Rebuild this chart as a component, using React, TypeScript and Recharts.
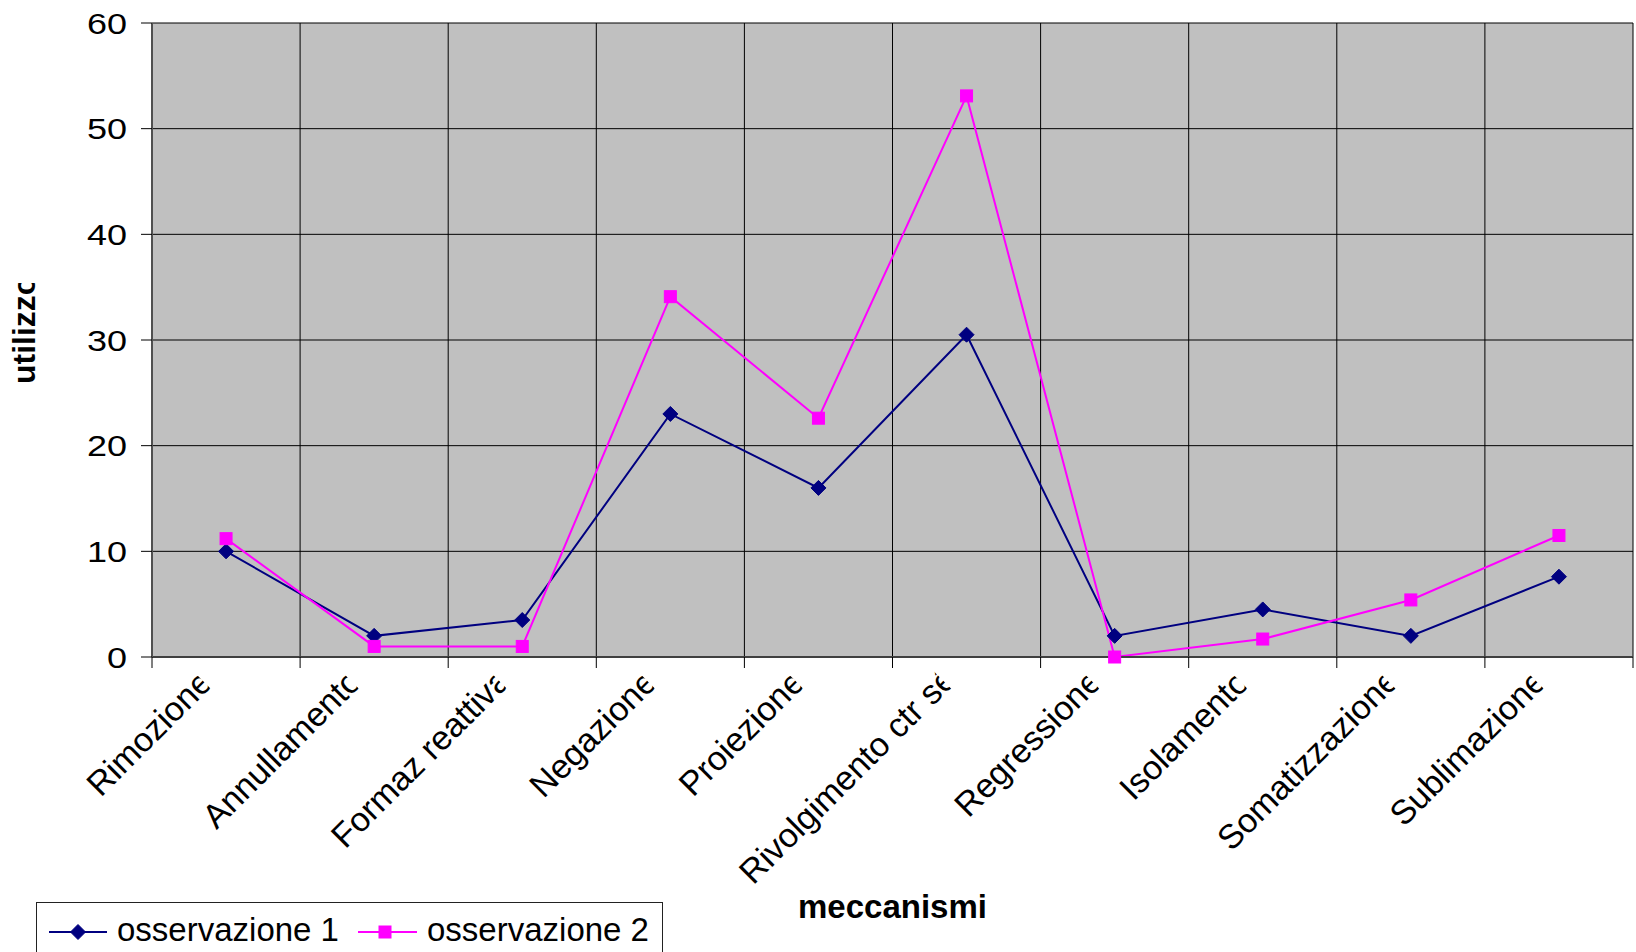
import React from "react";
import {
  ComposedChart,
  Line,
  XAxis,
  YAxis,
  CartesianGrid,
  Legend,
} from "recharts";

const categories = [
  "Rimozione",
  "Annullamento",
  "Formaz reattiva",
  "Negazione",
  "Proiezione",
  "Rivolgimento ctr sé",
  "Regressione",
  "Isolamento",
  "Somatizzazione",
  "Sublimazione",
];
const osservazione1 = [10, 2, 3.5, 23, 16, 30.5, 2, 4.5, 2, 7.6];
const osservazione2 = [11.2, 1, 1, 34.1, 22.6, 53.1, 0, 1.7, 5.4, 11.5];
const yTicks = [0, 10, 20, 30, 40, 50, 60];

const FONT = "'Liberation Sans', Arial, sans-serif";
const NAVY = "#000080";
const MAGENTA = "#FF00FF";

const data = categories.map((name, i) => ({
  name,
  o1: osservazione1[i],
  o2: osservazione2[i],
}));

let ctx: CanvasRenderingContext2D | null = null;
function textWidth(s: string, font: string) {
  if (!ctx) ctx = document.createElement("canvas").getContext("2d");
  if (!ctx) return s.length * 17;
  ctx.font = font;
  return ctx.measureText(s).width;
}

// vertical grid sits between categories, like excel does
function boundaryLines({ offset }: any) {
  const n = categories.length;
  const step = offset.width / n;
  return Array.from({ length: n + 1 }, (_, i) => offset.left + i * step);
}

// excel squeezed the labels: the end of each one is cut at the tick anchor
function XTick(props: any) {
  const { x, y, payload, index, width, visibleTicksCount } = props;
  const label = String(payload.value);
  const band = width / (visibleTicksCount || categories.length);
  const w = textWidth(label, `34px 'Liberation Sans'`);
  const start = -w / 1.035;
  const id = `xclip-${index}`;
  const last = index === (visibleTicksCount || categories.length) - 1;
  return (
    <g>
      <line x1={x - band / 2} x2={x - band / 2} y1={y} y2={y + 11} stroke="#000" />
      {last && (
        <line x1={x + band / 2} x2={x + band / 2} y1={y} y2={y + 11} stroke="#000" />
      )}
      <g transform={`translate(${x - 33},${y + 14}) rotate(-45)`}>
        <defs>
          <clipPath id={id}>
            <rect x={-700} y={-80} width={700} height={200} />
          </clipPath>
        </defs>
        <text
          x={start}
          y={0}
          dy="0.72em"
          textAnchor="start"
          fontSize={34}
          fontFamily={FONT}
          fill="#000"
          clipPath={`url(#${id})`}
        >
          {label}
        </text>
      </g>
    </g>
  );
}

function YTick(props: any) {
  const { x, y, payload } = props;
  return (
    <text
      transform={`translate(${x},${y}) scale(1.2,1)`}
      dy="0.36em"
      textAnchor="end"
      fontSize={30}
      fontFamily={FONT}
      fill="#000"
    >
      {payload.value}
    </text>
  );
}

function YTitle(props: any) {
  const { viewBox } = props;
  const cy = viewBox.y + viewBox.height / 2;
  const x = viewBox.x + 35;
  const y = cy + 44;
  return (
    <g>
      <defs>
        <clipPath id="ytitle-clip">
          <rect x={0} y={cy - 57} width={80} height={400} />
        </clipPath>
      </defs>
      <g clipPath="url(#ytitle-clip)">
        <text
          transform={`translate(${x},${y}) rotate(-90)`}
          textAnchor="start"
          fontSize={32}
          fontWeight="bold"
          fontFamily={FONT}
          fill="#000"
        >
          utilizzo
        </text>
      </g>
    </g>
  );
}

function XTitle(props: any) {
  const { viewBox } = props;
  return (
    <text
      x={viewBox.x + viewBox.width / 2}
      y={viewBox.y + 261}
      textAnchor="middle"
      fontSize={33}
      fontWeight="bold"
      fontFamily={FONT}
      fill="#000"
    >
      meccanismi
    </text>
  );
}

function Diamond(props: any) {
  const { cx, cy } = props;
  if (cx == null || cy == null) return null;
  const r = 7.5;
  return (
    <path
      d={`M${cx},${cy - r} L${cx + r},${cy} L${cx},${cy + r} L${cx - r},${cy} Z`}
      fill={NAVY}
      stroke={NAVY}
    />
  );
}

function Square(props: any) {
  const { cx, cy } = props;
  if (cx == null || cy == null) return null;
  return (
    <rect x={cx - 6} y={cy - 6} width={12} height={12} fill={MAGENTA} stroke={MAGENTA} />
  );
}

function LegendBox() {
  return (
    <div
      style={{
        width: 627,
        height: 70,
        boxSizing: "border-box",
        border: "1px solid #222",
        background: "#fff",
      }}
    >
      <svg width={625} height={68} style={{ display: "block" }}>
        <line x1={12} x2={70} y1={29} y2={29} stroke={NAVY} strokeWidth={2} />
        <Diamond cx={41} cy={29} />
        <text x={80} y={38} fontSize={33} fontFamily={FONT} fill="#000">
          osservazione 1
        </text>
        <line x1={321} x2={380} y1={29} y2={29} stroke={MAGENTA} strokeWidth={2} />
        <Square cx={348} cy={29} />
        <text x={390} y={38} fontSize={33} fontFamily={FONT} fill="#000">
          osservazione 2
        </text>
      </svg>
    </div>
  );
}

export default function App() {
  return (
    <div
      style={{
        position: "absolute",
        left: 0,
        top: 0,
        width: 1636,
        height: 952,
        overflow: "hidden",
        background: "#fff",
      }}
    >
      <ComposedChart
        width={1636}
        height={952}
        data={data}
        margin={{ top: 23, right: 3, bottom: 0, left: 0 }}
      >
        <CartesianGrid
          stroke="#000"
          strokeWidth={1}
          fill="#C0C0C0"
          fillOpacity={1}
          verticalCoordinatesGenerator={boundaryLines}
        />
        <XAxis
          dataKey="name"
          scale="band"
          interval={0}
          axisLine={{ stroke: "#404040", strokeWidth: 2 }}
          tickLine={false}
          tickSize={0}
          tickMargin={0}
          height={295}
          tick={<XTick />}
          label={<XTitle />}
        />
        <YAxis
          domain={[0, 60]}
          ticks={yTicks}
          width={152}
          tickSize={11}
          tickMargin={14}
          tick={<YTick />}
          tickLine={{ stroke: "#000" }}
          axisLine={{ stroke: "#505050", strokeWidth: 2 }}
          label={<YTitle />}
        />
        <Line
          dataKey="o1"
          name="osservazione 1"
          stroke={NAVY}
          strokeWidth={2}
          dot={<Diamond />}
          activeDot={false}
          isAnimationActive={false}
        />
        <Line
          dataKey="o2"
          name="osservazione 2"
          stroke={MAGENTA}
          strokeWidth={2}
          dot={<Square />}
          activeDot={false}
          isAnimationActive={false}
        />
        <Legend
          layout="horizontal"
          verticalAlign="middle"
          align="center"
          content={<LegendBox />}
          wrapperStyle={{ position: "absolute", left: 36, top: 902, width: 627, height: 70 }}
        />
      </ComposedChart>
    </div>
  );
}
